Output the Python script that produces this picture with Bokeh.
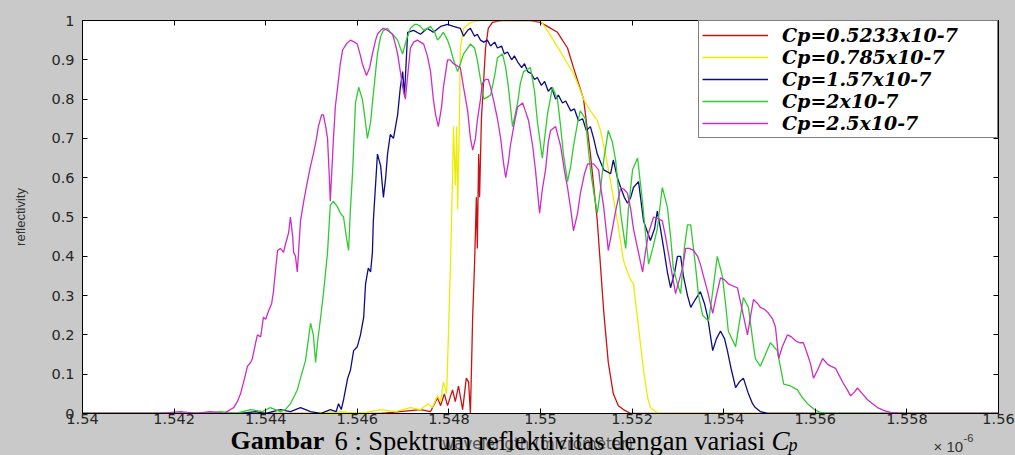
from bokeh.plotting import figure
from bokeh.layouts import column
from bokeh.models import Label, Legend, LegendItem, LinearAxis, FixedTicker, CustomJSTickFormatter
from bokeh.embed import file_html
from bokeh.resources import INLINE

# ---------------- data (wavelength in micrometer x 1e-6 axis units, reflectivity) -------------
x_ticks = [1.540, 1.542, 1.544, 1.546, 1.548, 1.550, 1.552, 1.554, 1.556, 1.558, 1.560]
x_tick_labels = ["1.54", "1.542", "1.544", "1.546", "1.548", "1.55", "1.552", "1.554", "1.556", "1.558", "1.56"]
y_ticks = [0.0, 0.1, 0.2, 0.3, 0.4, 0.5, 0.6, 0.7, 0.8, 0.9, 1.0]
y_tick_labels = ["0", "0.1", "0.2", "0.3", "0.4", "0.5", "0.6", "0.7", "0.8", "0.9", "1"]

series_labels = ["Cp=0.5233x10-7", "Cp=0.785x10-7", "Cp=1.57x10-7", "Cp=2x10-7", "Cp=2.5x10-7"]
series_colors = ["#cc1111", "#ecec00", "#0c0c84", "#2ecc2e", "#cc2ccc"]

red_x = [1.54, 1.54651, 1.54694, 1.54738, 1.54760, 1.54775, 1.54782, 1.54790, 1.54797, 1.54808,
         1.54814, 1.54821, 1.54830, 1.54838, 1.54843, 1.54847, 1.54852, 1.54856, 1.54860, 1.54862,
         1.54865, 1.54867, 1.54871, 1.54876, 1.54880, 1.54886, 1.54895, 1.54913, 1.54978, 1.55000,
         1.55015, 1.55037, 1.55059, 1.55072, 1.55083, 1.55094, 1.55109, 1.55124, 1.55138, 1.55148,
         1.55159, 1.55170, 1.55181, 1.55197, 1.56]
red_y = [0, 0, 0.005, 0.01, 0.005, 0.04, 0.02, 0.05, 0.02, 0.06,
         0.03, 0.07, 0.01, 0.09, 0.08, 0.0, 0.25, 0.38, 0.55, 0.42,
         0.66, 0.55, 0.75, 0.85, 0.93, 0.98, 0.995, 1.0, 1.0, 0.995,
         0.985, 0.97, 0.93, 0.88, 0.84, 0.80, 0.66, 0.49, 0.26, 0.13,
         0.05, 0.02, 0.01, 0.0, 0]

yellow_x = [1.54, 1.54476, 1.54563, 1.54607, 1.54651, 1.54683, 1.54716, 1.54738, 1.54755, 1.54764,
            1.54775, 1.54782, 1.54788, 1.54795, 1.54799, 1.54803, 1.54808, 1.54810, 1.54814, 1.54817,
            1.54819, 1.54823, 1.54825, 1.54832, 1.54847, 1.54869, 1.55000, 1.55015, 1.55028, 1.55044,
            1.55059, 1.55070, 1.55081, 1.55094, 1.55109, 1.55124, 1.55131, 1.55142, 1.55153, 1.55168,
            1.55181, 1.55190, 1.55197, 1.55203, 1.55212, 1.55225, 1.55234, 1.55240, 1.55251, 1.55266,
            1.56]
yellow_y = [0, 0, 0.005, 0, 0.01, 0.005, 0.015, 0.01, 0.025, 0.015,
            0.045, 0.03, 0.08, 0.05, 0.2, 0.36, 0.6, 0.73, 0.58, 0.73,
            0.52, 0.75, 0.93, 0.98, 0.995, 1.0, 1.0, 0.975, 0.95, 0.92,
            0.89, 0.87, 0.84, 0.80, 0.77, 0.745, 0.72, 0.66, 0.59, 0.49,
            0.39, 0.36, 0.34, 0.33, 0.24, 0.11, 0.04, 0.015, 0.005, 0,
            0]

blue_x = [1.54, 1.54345, 1.54378, 1.54400, 1.54432, 1.54454, 1.54476, 1.54498, 1.54520, 1.54541,
          1.54554, 1.54559, 1.54565, 1.54570, 1.54579, 1.54585, 1.54592, 1.54600, 1.54607, 1.54614,
          1.54618, 1.54624, 1.54629, 1.54633, 1.54635, 1.54644, 1.54651, 1.54657, 1.54662, 1.54666,
          1.54672, 1.54679, 1.54688, 1.54694, 1.54699, 1.54703, 1.54710, 1.54723, 1.54738, 1.54753,
          1.54766, 1.54782, 1.54797, 1.54810, 1.54825, 1.54832, 1.54841, 1.54847, 1.54856, 1.54862,
          1.54869, 1.54876, 1.54884, 1.54891, 1.54900, 1.54906, 1.54915, 1.54921, 1.54928, 1.54937,
          1.54943, 1.54950, 1.54959, 1.54965, 1.54972, 1.54980, 1.54987, 1.54993, 1.55002, 1.55009,
          1.55017, 1.55024, 1.55033, 1.55039, 1.55048, 1.55055, 1.55066, 1.55074, 1.55083, 1.55092,
          1.55100, 1.55109, 1.55116, 1.55124, 1.55131, 1.55138, 1.55146, 1.55153, 1.55159, 1.55168,
          1.55175, 1.55183, 1.55190, 1.55197, 1.55203, 1.55214, 1.55225, 1.55234, 1.55240, 1.55249,
          1.55255, 1.55262, 1.55269, 1.55277, 1.55284, 1.55293, 1.55299, 1.55306, 1.55312, 1.55321,
          1.55328, 1.55338, 1.55349, 1.55358, 1.55365, 1.55376, 1.55384, 1.55393, 1.55402, 1.55408,
          1.55417, 1.55426, 1.55434, 1.55443, 1.55454, 1.55463, 1.55469, 1.55480, 1.55496, 1.56]
blue_y = [0, 0, 0.005, 0, 0.01, 0.005, 0.015, 0.005, 0, 0.01,
          0.005, 0.025, 0.01, 0.035, 0.09, 0.11, 0.16, 0.17, 0.20, 0.245,
          0.33, 0.37, 0.36, 0.41, 0.49, 0.66, 0.63, 0.55, 0.60, 0.66,
          0.71, 0.70, 0.76, 0.83, 0.87, 0.81, 0.97, 0.975, 0.965, 0.98,
          0.97, 0.985, 0.99, 0.985, 0.98, 0.96, 0.975, 0.98, 0.96, 0.965,
          0.95, 0.945, 0.95, 0.935, 0.945, 0.93, 0.935, 0.915, 0.92, 0.90,
          0.91, 0.895, 0.88, 0.89, 0.87, 0.865, 0.85, 0.855, 0.835, 0.845,
          0.82, 0.83, 0.80, 0.81, 0.79, 0.795, 0.77, 0.775, 0.745, 0.75,
          0.72, 0.73, 0.70, 0.66, 0.64, 0.62, 0.615, 0.61, 0.645, 0.60,
          0.575, 0.55, 0.535, 0.55, 0.575, 0.59, 0.49, 0.46, 0.44, 0.47,
          0.515, 0.47, 0.42, 0.36, 0.32, 0.36, 0.40, 0.40, 0.35, 0.30,
          0.27, 0.29, 0.31, 0.28, 0.245, 0.16, 0.19, 0.21, 0.19, 0.16,
          0.11, 0.066, 0.08, 0.09, 0.05, 0.025, 0.015, 0.005, 0, 0]

green_x = [1.54, 1.54258, 1.54301, 1.54334, 1.54367, 1.54393, 1.54410, 1.54432, 1.54443, 1.54454,
           1.54469, 1.54476, 1.54487, 1.54498, 1.54504, 1.54509, 1.54513, 1.54520, 1.54526, 1.54535,
           1.54541, 1.54548, 1.54557, 1.54563, 1.54570, 1.54576, 1.54581, 1.54585, 1.54590, 1.54596,
           1.54603, 1.54611, 1.54618, 1.54622, 1.54629, 1.54633, 1.54640, 1.54644, 1.54651, 1.54657,
           1.54666, 1.54672, 1.54681, 1.54688, 1.54694, 1.54699, 1.54707, 1.54716, 1.54725, 1.54731,
           1.54738, 1.54745, 1.54753, 1.54760, 1.54769, 1.54775, 1.54782, 1.54788, 1.54797, 1.54803,
           1.54810, 1.54819, 1.54825, 1.54832, 1.54841, 1.54847, 1.54856, 1.54862, 1.54869, 1.54876,
           1.54884, 1.54891, 1.54900, 1.54906, 1.54917, 1.54924, 1.54930, 1.54939, 1.54950, 1.54956,
           1.54963, 1.54978, 1.54987, 1.54993, 1.55004, 1.55015, 1.55026, 1.55037, 1.55044, 1.55050,
           1.55059, 1.55066, 1.55072, 1.55081, 1.55087, 1.55098, 1.55109, 1.55118, 1.55124, 1.55131,
           1.55138, 1.55148, 1.55157, 1.55164, 1.55175, 1.55186, 1.55192, 1.55201, 1.55212, 1.55223,
           1.55229, 1.55236, 1.55245, 1.55255, 1.55266, 1.55277, 1.55284, 1.55290, 1.55299, 1.55306,
           1.55314, 1.55321, 1.55328, 1.55338, 1.55345, 1.55354, 1.55367, 1.55376, 1.55386, 1.55397,
           1.55404, 1.55410, 1.55426, 1.55434, 1.55443, 1.55454, 1.55463, 1.55469, 1.55480, 1.55491,
           1.55502, 1.55517, 1.55531, 1.55546, 1.55561, 1.55572, 1.55583, 1.55598, 1.55611, 1.55629,
           1.56]
green_y = [0, 0, 0.005, 0, 0.01, 0.005, 0.015, 0.005, 0.01, 0.025,
           0.06, 0.09, 0.135, 0.23, 0.20, 0.13, 0.18, 0.245, 0.305, 0.41,
           0.53, 0.54, 0.525, 0.51, 0.50, 0.45, 0.415, 0.52, 0.62, 0.79,
           0.83, 0.80, 0.74, 0.70, 0.74, 0.79, 0.87, 0.915, 0.96, 0.975,
           0.98, 0.97, 0.96, 0.95, 0.93, 0.915, 0.95, 0.98, 0.99, 0.99,
           0.985, 0.975, 0.98, 0.985, 0.97, 0.95, 0.96, 0.97, 0.95, 0.93,
           0.90, 0.87, 0.89, 0.915, 0.93, 0.94, 0.93, 0.90, 0.85, 0.80,
           0.805, 0.81, 0.86, 0.905, 0.915, 0.88, 0.83, 0.73, 0.79, 0.84,
           0.87, 0.88, 0.82, 0.745, 0.65, 0.76, 0.83, 0.80, 0.73, 0.66,
           0.59, 0.63, 0.68, 0.74, 0.77, 0.75, 0.62, 0.55, 0.51, 0.57,
           0.645, 0.72, 0.69, 0.645, 0.51, 0.42, 0.52, 0.62, 0.65, 0.535,
           0.46, 0.38, 0.42, 0.47, 0.575, 0.525, 0.45, 0.37, 0.33, 0.305,
           0.42, 0.48, 0.48, 0.38, 0.30, 0.25, 0.235, 0.31, 0.40, 0.35,
           0.28, 0.21, 0.17, 0.23, 0.295, 0.27, 0.19, 0.14, 0.12, 0.15,
           0.18, 0.16, 0.075, 0.07, 0.06, 0.04, 0.025, 0.01, 0.003, 0,
           0]

magenta_x = [1.54, 1.54170, 1.54214, 1.54247, 1.54279, 1.54308, 1.54323, 1.54330, 1.54338, 1.54345,
             1.54354, 1.54360, 1.54367, 1.54371, 1.54378, 1.54382, 1.54389, 1.54395, 1.54400, 1.54406,
             1.54413, 1.54417, 1.54421, 1.54426, 1.54432, 1.54439, 1.54443, 1.54450, 1.54454, 1.54459,
             1.54461, 1.54465, 1.54469, 1.54476, 1.54483, 1.54491, 1.54498, 1.54504, 1.54511, 1.54515,
             1.54522, 1.54526, 1.54531, 1.54535, 1.54539, 1.54541, 1.54548, 1.54552, 1.54557, 1.54563,
             1.54568, 1.54576, 1.54585, 1.54594, 1.54600, 1.54607, 1.54611, 1.54620, 1.54627, 1.54633,
             1.54640, 1.54644, 1.54651, 1.54657, 1.54666, 1.54677, 1.54683, 1.54688, 1.54694, 1.54699,
             1.54705, 1.54710, 1.54716, 1.54723, 1.54731, 1.54738, 1.54745, 1.54753, 1.54760, 1.54766,
             1.54771, 1.54777, 1.54784, 1.54788, 1.54797, 1.54803, 1.54810, 1.54825, 1.54832, 1.54841,
             1.54847, 1.54852, 1.54858, 1.54862, 1.54869, 1.54873, 1.54880, 1.54886, 1.54891, 1.54897,
             1.54906, 1.54913, 1.54919, 1.54924, 1.54930, 1.54934, 1.54943, 1.54950, 1.54961, 1.54967,
             1.54974, 1.54983, 1.54989, 1.54998, 1.55004, 1.55011, 1.55017, 1.55022, 1.55033, 1.55044,
             1.55052, 1.55059, 1.55066, 1.55072, 1.55081, 1.55087, 1.55096, 1.55103, 1.55116, 1.55127,
             1.55131, 1.55138, 1.55144, 1.55148, 1.55157, 1.55164, 1.55175, 1.55183, 1.55190, 1.55197,
             1.55203, 1.55212, 1.55223, 1.55229, 1.55236, 1.55247, 1.55258, 1.55266, 1.55273, 1.55279,
             1.55288, 1.55295, 1.55303, 1.55310, 1.55317, 1.55325, 1.55334, 1.55343, 1.55349, 1.55358,
             1.55365, 1.55376, 1.55384, 1.55393, 1.55402, 1.55410, 1.55419, 1.55430, 1.55441, 1.55452,
             1.55459, 1.55465, 1.55474, 1.55480, 1.55489, 1.55498, 1.55507, 1.55513, 1.55520, 1.55528,
             1.55539, 1.55548, 1.55557, 1.55566, 1.55574, 1.55583, 1.55590, 1.55596, 1.55605, 1.55616,
             1.55627, 1.55635, 1.55644, 1.55653, 1.55662, 1.55670, 1.55677, 1.55686, 1.55692, 1.55703,
             1.55714, 1.55725, 1.55736, 1.55749, 1.55764, 1.55793, 1.56]
magenta_y = [0, 0, 0.005, 0, 0.005, 0, 0.01, 0.015, 0.03, 0.05,
             0.09, 0.12, 0.13, 0.14, 0.18, 0.20, 0.195, 0.245, 0.24, 0.26,
             0.28, 0.31, 0.36, 0.415, 0.42, 0.41, 0.43, 0.46, 0.50, 0.45,
             0.41, 0.40, 0.36, 0.49, 0.54, 0.59, 0.63, 0.66, 0.70, 0.73,
             0.76, 0.76, 0.73, 0.70, 0.60, 0.54, 0.70, 0.78, 0.83, 0.89,
             0.925, 0.94, 0.95, 0.945, 0.94, 0.91, 0.89, 0.86, 0.88, 0.915,
             0.95, 0.965, 0.975, 0.98, 0.975, 0.965, 0.94, 0.915, 0.87, 0.83,
             0.80, 0.86, 0.93, 0.945, 0.95, 0.945, 0.94, 0.91, 0.87, 0.80,
             0.76, 0.73, 0.78, 0.83, 0.90, 0.90, 0.89, 0.88, 0.83, 0.77,
             0.70, 0.67, 0.70, 0.745, 0.80, 0.84, 0.85, 0.85, 0.83, 0.80,
             0.75, 0.70, 0.64, 0.60, 0.64, 0.68, 0.74, 0.78, 0.79, 0.77,
             0.745, 0.68, 0.62, 0.51, 0.57, 0.62, 0.69, 0.72, 0.73, 0.68,
             0.62, 0.575, 0.52, 0.465, 0.51, 0.56, 0.61, 0.635, 0.635, 0.62,
             0.58, 0.525, 0.46, 0.415, 0.47, 0.515, 0.575, 0.57, 0.56, 0.52,
             0.47, 0.42, 0.36, 0.41, 0.46, 0.50, 0.495, 0.49, 0.45, 0.41,
             0.35, 0.305, 0.34, 0.37, 0.42, 0.42, 0.415, 0.40, 0.38, 0.34,
             0.31, 0.255, 0.30, 0.345, 0.34, 0.33, 0.325, 0.32, 0.26, 0.20,
             0.25, 0.29, 0.28, 0.27, 0.265, 0.255, 0.24, 0.22, 0.14, 0.17,
             0.20, 0.195, 0.185, 0.18, 0.18, 0.15, 0.125, 0.09, 0.11, 0.14,
             0.125, 0.12, 0.115, 0.095, 0.075, 0.06, 0.045, 0.055, 0.065, 0.05,
             0.035, 0.025, 0.015, 0.008, 0.003, 0, 0]

series = [(red_x, red_y), (yellow_x, yellow_y), (blue_x, blue_y), (green_x, green_y), (magenta_x, magenta_y)]
for sx, sy in series:
    assert len(sx) == len(sy), (len(sx), len(sy))

PAGE_BG = "#c9c9c9"
W, H = 1015, 455
MAIN_H = 430
FRAME_LEFT = 82

# ---------------- main figure ----------------
p = figure(width=W, height=MAIN_H, x_range=(1.54, 1.56), y_range=(0, 1),
           output_backend="svg", toolbar_location=None,
           min_border_left=FRAME_LEFT, min_border_right=17, min_border_top=20, min_border_bottom=17,
           background_fill_color="white", border_fill_color=PAGE_BG)
p.grid.visible = False
p.outline_line_color = "black"
p.outline_line_width = 1

fmt_code = """
for (let i = 0; i < tick_vals.length; i++) {
  if (Math.abs(tick_vals[i] - tick) < 1e-9) { return tick_texts[i] }
}
return ''
"""
xfmt = CustomJSTickFormatter(args=dict(tick_vals=x_ticks, tick_texts=x_tick_labels), code=fmt_code)
yfmt = CustomJSTickFormatter(args=dict(tick_vals=y_ticks, tick_texts=y_tick_labels), code=fmt_code)
blank_fmt = CustomJSTickFormatter(code="return ''")


def style_axis(ax, standoff):
    ax.major_tick_in = 5
    ax.major_tick_out = 0
    ax.minor_tick_in = 0
    ax.minor_tick_out = 0
    ax.axis_line_color = "black"
    ax.major_tick_line_color = "black"
    ax.major_label_text_font = "DejaVu Sans"
    ax.major_label_text_font_size = "14.5px"
    ax.major_label_text_color = "#262626"
    ax.major_label_standoff = standoff


xa = p.xaxis[0]
xa.ticker = FixedTicker(ticks=x_ticks)
xa.formatter = xfmt
style_axis(xa, 0)
ya = p.yaxis[0]
ya.ticker = FixedTicker(ticks=y_ticks)
ya.formatter = yfmt
style_axis(ya, 8)
ya.axis_label = "reflectivity"
ya.axis_label_text_font = "Liberation Sans Narrow, Liberation Sans"
ya.axis_label_text_font_size = "13px"
ya.axis_label_text_font_style = "normal"
ya.axis_label_text_color = "#333333"
ya.axis_label_standoff = 20

top_ax = LinearAxis(ticker=FixedTicker(ticks=x_ticks), formatter=blank_fmt)
style_axis(top_ax, 0)
p.add_layout(top_ax, "above")
right_ax = LinearAxis(ticker=FixedTicker(ticks=y_ticks), formatter=blank_fmt)
style_axis(right_ax, 0)
p.add_layout(right_ax, "right")

renderers = []
for (sx, sy), col in zip(series, series_colors):
    r = p.line(sx, sy, line_color=col, line_width=1.3)
    renderers.append(r)

legend = Legend(items=[LegendItem(label=lab, renderers=[r]) for lab, r in zip(series_labels, renderers)],
                location="top_right", margin=0, padding=3, spacing=0,
                label_height=22, label_width=212, glyph_height=22, glyph_width=66, label_standoff=14,
                label_text_font="DejaVu Serif", label_text_font_style="bold italic",
                label_text_font_size="19px", label_text_color="black",
                border_line_color="black", border_line_width=1,
                background_fill_color="white", background_fill_alpha=1)
p.add_layout(legend)

# ---------------- transparent overlay carrying the caption texts ----------------
# (its frame is aligned by the column layout with the main frame's left edge)
ov = figure(width=W, height=H, x_range=(0, 1), y_range=(0, 1),
            output_backend="svg", toolbar_location=None, min_border=0,
            x_axis_type=None, y_axis_type=None,
            background_fill_alpha=0, border_fill_alpha=0, margin=(-MAIN_H, 0, 0, 0))
ov.grid.visible = False
ov.outline_line_color = None


def txt(px, py, text, font, size, color="black", style="normal", align="left"):
    ov.add_layout(Label(x=px - FRAME_LEFT, y=H - py, x_units="screen", y_units="screen", text=text,
                        text_align=align, text_baseline="alphabetic", text_font=font,
                        text_font_style=style, text_font_size=size, text_color=color))


txt(537, 443, "wavelength (micrometer)", "DejaVu Sans", "15px", "#555555", align="center")
txt(933, 446, "\u00d7 10", "Liberation Sans", "15px", "#333333")
txt(963, 437, "-6", "Liberation Sans", "11px", "#333333")
txt(230, 440, "Gambar", "Liberation Serif", "26px", style="bold")
txt(334, 440, "6 : Spektrum reflektivitas dengan variasi", "Liberation Serif", "26.5px")
txt(771, 440, "C", "Liberation Serif", "27px", style="italic")
txt(788, 444, "p", "Liberation Serif", "18px", style="italic")

layout = column(p, ov, spacing=0)
html = file_html(layout, INLINE, title="Spektrum reflektivitas")
html = html.replace("<head>", "<head><style>html, body { background: %s; }</style>" % PAGE_BG, 1)
open("out.html", "w").write(html)
